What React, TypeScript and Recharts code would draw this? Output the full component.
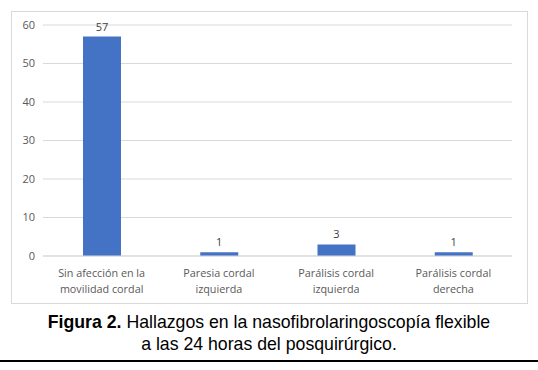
import { BarChart, Bar, XAxis, YAxis, CartesianGrid, LabelList } from 'recharts';

const categories = [
  ['Sin afección en la', 'movilidad cordal'],
  ['Paresia cordal', 'izquierda'],
  ['Parálisis cordal', 'izquierda'],
  ['Parálisis cordal', 'derecha'],
];
const counts = [57, 1, 3, 1];
const yTicks = [0, 10, 20, 30, 40, 50, 60];

const data = categories.map((lines, i) => ({ name: lines.join(' '), lines, value: counts[i] }));

const FONT = '"Open Sans", "Noto Sans", sans-serif';

function CategoryTick(props: any) {
  const { x, y, payload, index } = props;
  const lines = data[index]?.lines ?? [payload.value];
  return (
    <text x={x} y={y} textAnchor="middle" fill="#595959" fontSize={10.8} fontFamily={FONT}>
      {lines.map((l: string, i: number) => (
        <tspan key={i} x={x} dy={i === 0 ? 13 : 16}>{l}</tspan>
      ))}
    </text>
  );
}

export default function App() {
  return (
    <div style={{ position: 'absolute', left: 0, top: 0, width: 538, height: 370, background: '#fff' }}>
      <div
        style={{
          position: 'absolute',
          left: 11,
          top: 11,
          width: 515,
          height: 291,
          border: '1px solid #d9d9d9',
        }}
      >
        <BarChart
          width={515}
          height={291}
          data={data}
          margin={{ top: 13, right: 15, left: 0, bottom: 0 }}
        >
          <CartesianGrid vertical={false} stroke="#d9d9d9" />
          <XAxis
            dataKey="name"
            height={47}
            interval={0}
            tickLine={false}
            axisLine={{ stroke: '#d9d9d9' }}
            tick={<CategoryTick />}
          />
          <YAxis
            width={31}
            domain={[0, 60]}
            ticks={yTicks}
            tickLine={false}
            axisLine={false}
            tick={{ fontSize: 11, fill: '#595959', fontFamily: FONT }}
          />
          <Bar dataKey="value" fill="#4472c4" barSize={38} isAnimationActive={false}>
            <LabelList dataKey="value" position="top" offset={6} fill="#404040" fontSize={11} fontFamily={FONT} />
          </Bar>
        </BarChart>
      </div>
      <div
        style={{
          position: 'absolute',
          left: 0,
          top: 311,
          width: 538,
          textAlign: 'center',
          fontFamily: '"Liberation Sans", Arial, sans-serif',
          fontSize: 17.7,
          lineHeight: '22px',
          color: '#000',
        }}
      >
        <b>Figura 2.</b> Hallazgos en la nasofibrolaringoscopía flexible
        <br />
        a las 24 horas del posquirúrgico.
      </div>
      <div style={{ position: 'absolute', left: 0, top: 360, width: 538, height: 2, background: '#000' }} />
    </div>
  );
}
